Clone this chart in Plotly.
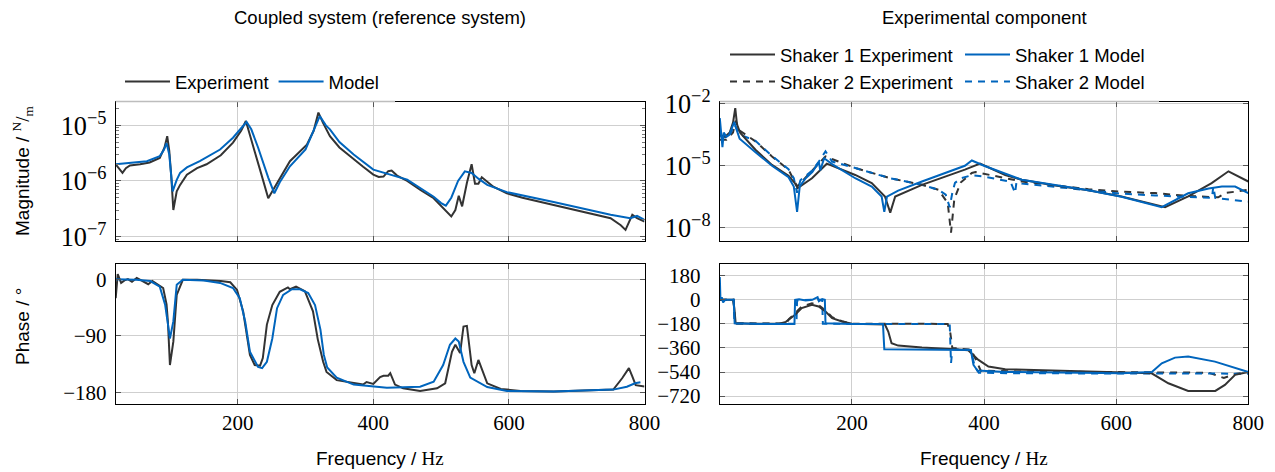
import plotly.graph_objects as go

W, H = 1275, 472
BLACK = "#333333"
BLUE = "#0065BD"
GRID = "#cfcfcf"
SANS = "Liberation Sans"
SERIF = "Liberation Serif"

# ---------------- data: coupled system (left) ----------------
cs_mag_exp_f = [20, 24, 30, 35, 41, 56, 70, 85, 92, 96, 99, 102, 105, 110, 115, 125, 140, 154, 175, 193,
                205, 212, 218, 225, 235, 245, 277, 302, 312, 319, 326, 336, 350, 371, 385, 400, 408, 415,
                422, 427, 435, 450, 470, 489, 505, 515, 521, 526, 531, 538, 545, 550, 555, 560, 577, 597,
                620, 666, 700, 750, 765, 772, 782, 789, 800]
cs_mag_exp = [2.0e-6, 1.7e-6, 1.4e-6, 1.7e-6, 1.9e-6, 2.0e-6, 2.15e-6, 2.6e-6, 4.0e-6, 6.4e-6, 3.5e-6,
              1.2e-6, 3.0e-7, 6.5e-7, 8.5e-7, 1.3e-6, 1.7e-6, 2.0e-6, 2.9e-6, 4.9e-6,
              8.0e-6, 1.2e-5, 7.0e-6, 3.4e-6, 1.3e-6, 4.9e-7, 2.27e-6, 4.5e-6, 8.0e-6, 1.7e-5, 1.1e-5,
              6.4e-6, 4.0e-6, 2.43e-6, 1.8e-6, 1.3e-6, 1.18e-6, 1.2e-6,
              1.5e-6, 1.54e-6, 1.25e-6, 1.0e-6, 6.8e-7, 4.9e-7, 3.0e-7, 2.3e-7, 3.0e-7, 5.4e-7, 3.5e-7,
              9.2e-7, 2.0e-6, 8.9e-7, 8.9e-7, 1.17e-6, 7.9e-7, 6.0e-7,
              5.0e-7, 3.7e-7, 3.0e-7, 2.14e-7, 1.6e-7, 1.32e-7, 2.46e-7, 2.14e-7, 1.86e-7]

cs_mag_mod_f = [20, 40, 66, 85, 91, 95, 99, 104, 110, 115, 125, 144, 174, 193, 205, 213, 220, 230, 245,
                254, 262, 277, 300, 312, 321, 330, 336, 350, 371, 400, 450, 489, 500, 507, 515, 525, 535,
                545, 555, 568, 597, 666, 750, 779, 789, 794, 800]
cs_mag_mod = [2.0e-6, 2.1e-6, 2.27e-6, 2.8e-6, 3.6e-6, 4.8e-6, 3.0e-6, 6.5e-7, 1.05e-6, 1.4e-6, 1.75e-6,
              2.27e-6, 3.68e-6, 6.0e-6, 9.0e-6, 1.15e-5, 8.5e-6, 4.0e-6, 1.15e-6,
              6.0e-7, 9.5e-7, 1.84e-6, 3.7e-6, 8.0e-6, 1.47e-5, 1.0e-5, 8.5e-6, 5.0e-6, 3.0e-6, 1.6e-6,
              1.06e-6, 5.2e-7, 4.0e-7, 3.6e-7, 5.0e-7, 1.0e-6, 1.49e-6,
              1.39e-6, 1.1e-6, 8.5e-7, 6.3e-7, 4.2e-7, 2.46e-7, 2.14e-7, 2.35e-7, 2.2e-7, 2.0e-7]

cs_ph_exp_f = [20, 23, 28, 33, 38, 44, 51, 59, 68, 74, 82, 90, 95, 97, 100, 105, 110, 119, 140, 160, 175,
               189, 199, 208, 218, 225, 233, 237, 243, 251, 262, 274, 277, 286, 299, 311, 318, 326, 331,
               346, 371, 385, 390, 400, 410, 415, 422, 425, 432, 444, 469, 494, 506, 516, 521, 528, 533,
               538, 545, 549, 555, 568, 588, 617, 666, 754, 767, 777, 782, 787, 800]
cs_ph_exp = [-30, 8, -6, -2, 0, -4, 2, -3, -8, -3, -8, -14, -40, -67, -136, -99, -25, -1, -1, -2, -3,
             -5, -17, -51, -120, -136, -137, -125, -72, -41, -20, -13, -16, -12, -19, -51, -95, -131, -147,
             -160, -165, -167, -163, -166, -155, -153, -153, -149, -167, -173, -177, -173, -165, -115, -104,
             -117, -75, -74, -136, -149, -128, -165, -174, -177, -178, -175, -157, -141, -154, -168, -170]

cs_ph_mod_f = [20, 50, 71, 85, 93, 100, 105, 110, 119, 150, 174, 193, 203, 211, 218, 230, 236, 243, 251,
               258, 267, 280, 292, 304, 314, 318, 322, 327, 332, 346, 371, 420, 469, 489, 503, 513, 521,
               526, 533, 543, 568, 597, 666, 754, 774, 786, 794]
cs_ph_mod = [0, -1, -3, -12, -41, -94, -67, -9, -1, -2, -6, -14, -30, -67, -115, -139, -141, -131, -94,
             -46, -25, -16, -16, -22, -41, -60, -80, -120, -140, -156, -167, -172, -170.5, -162.5, -136,
             -104, -94, -99, -131, -156, -171, -177, -178, -175, -170.5, -165, -163.5]

# ---------------- data: experimental component (right) ----------------
ec_mag_s1e_f = [1, 8, 15, 20, 23.4, 26, 31, 54, 79, 104, 114, 118, 139.5, 162, 205, 230, 250, 258, 265.5,
                306, 371, 394, 432, 457, 507.5, 558, 608, 638.6, 674, 709, 744.5, 770, 800]
ec_mag_s1e = [3.0e-4, 2.5e-4, 4.0e-4, 1.2e-3, 6.0e-3, 1.0e-3, 3.8e-4, 5.9e-5, 1.1e-5, 3.3e-6, 1.4e-6,
              8.3e-7, 2.5e-6, 1.26e-5, 3.6e-6, 1.45e-6, 3.3e-7, 5.5e-8, 3.3e-7,
              1.2e-6, 6.5e-6, 1.26e-5, 3.6e-6, 2.1e-6, 1.12e-6, 6.5e-7, 3.3e-7, 1.86e-7, 1.0e-7, 3.3e-7,
              1.45e-6, 5.4e-6, 1.74e-6]

ec_mag_s1m_f = [0, 2, 4, 6, 10, 14, 18, 22, 25, 30, 54, 79, 104, 112, 117, 121, 130, 140, 150, 152, 158,
                170, 205, 230, 245, 249, 253, 270, 306, 371, 381.5, 400, 457, 558, 608, 669, 709, 740,
                760, 780, 800]
ec_mag_s1m = [2.0e-3, 3.0e-4, 8.0e-5, 4.0e-4, 2.5e-4, 3.0e-4, 6.0e-4, 1.3e-3, 6.0e-4, 2.0e-4, 4.5e-5,
              1.0e-5, 2.8e-6, 1.0e-6, 6.0e-8, 1.0e-6, 2.5e-6, 5.0e-6, 1.5e-5, 6.0e-6, 2.3e-5,
              1.2e-5, 2.5e-6, 1.0e-6, 3.3e-7, 6.0e-8, 3.2e-7, 6.3e-7, 1.74e-6, 1.0e-5, 1.8e-5, 1.0e-5,
              2.1e-6, 6.5e-7, 3.2e-7, 1.0e-7, 4.7e-7, 8.0e-7, 1.0e-6, 1.0e-6, 4.8e-7]

ec_mag_s2e_f = [0, 10, 20, 24, 30, 54, 79, 104, 117, 139.5, 160, 205, 258, 306, 331, 345, 350, 355, 365,
                381.5, 387, 457, 558, 608, 659, 709, 754.5, 765, 800]
ec_mag_s2e = [1.8e-4, 1.8e-4, 4.0e-4, 1.5e-3, 5.0e-4, 1.5e-4, 2.8e-5, 6.5e-6, 1.0e-6, 5.4e-6, 2.8e-5,
              7.8e-6, 2.5e-6, 1.2e-6, 6.9e-7, 1.6e-7, 6.0e-9, 2.5e-7, 1.6e-6,
              4.5e-6, 5.0e-6, 1.74e-6, 7.4e-7, 5.6e-7, 4.8e-7, 3.5e-7, 3.0e-7, 4.8e-7, 6.9e-7]

ec_mag_s2m_f = [0, 3, 6, 10, 16, 22, 26, 32, 54, 79, 104, 112, 117, 122, 140, 150, 160, 170, 205, 258,
                306, 331, 342, 348, 352, 356, 365, 381.5, 400, 440, 447, 449, 457, 558, 608, 659, 709, 745,
                747, 750, 800]
ec_mag_s2m = [5.0e-4, 1.6e-4, 3.0e-4, 2.0e-4, 3.5e-4, 1.0e-3, 6.0e-4, 3.0e-4, 1.6e-4, 3.0e-5, 6.8e-6,
              2.5e-6, 5.0e-7, 2.0e-6, 6.0e-6, 1.6e-5, 5.0e-5, 1.6e-5, 7.8e-6, 2.5e-6,
              1.2e-6, 6.9e-7, 4.0e-7, 1.0e-7, 5.0e-7, 1.5e-6, 2.5e-6, 3.5e-6, 3.0e-6, 1.7e-6, 4.8e-7,
              1.6e-6, 1.4e-6, 6.9e-7, 4.5e-7, 3.7e-7, 3.2e-7, 2.8e-7, 1.0e-6, 2.8e-7, 1.86e-7]

ec_ph_s1e_f = [0, 20, 22, 24, 50, 90, 100, 104.5, 114, 124, 139.5, 149.6, 160, 170, 185, 200, 240, 250,
               255, 260, 270, 306, 356, 376, 391.5, 406.6, 432, 507.5, 653.7, 679, 709, 750, 764.6, 780,
               800]
ec_ph_s1e = [0, 0, -60, -175, -178, -178, -165, -150, -112, -62, -37, -50, -87, -137, -162, -178, -180,
             -185, -237, -324, -342, -357, -369, -377, -449, -499, -519, -531, -549, -624, -681, -681,
             -636, -561, -539]

ec_ph_s1m_f = [0, 1, 3, 5, 8, 21, 22.5, 60, 113, 114, 120, 130, 140, 148, 150, 155, 159, 160, 200, 247,
               249, 300, 380, 384, 390, 432, 608, 654, 669, 689, 709, 749.5, 800]
ec_ph_s1m = [170, 0, 20, -20, 0, 0, -175, -180, -180, 0, 5, -5, 0, 20, -10, 5, 0, -175, -180, -180,
             -370, -372, -375, -487, -529, -539, -549, -539, -474, -432, -424, -462, -539]

ec_ph_s2e_f = [0, 21, 23, 100, 104.5, 114, 124, 139.5, 149.6, 160, 170, 185, 200, 345, 349, 352, 380,
               388, 395, 450, 600, 740, 763, 780, 800]
ec_ph_s2e = [0, 0, -175, -178, -145, -100, -50, -25, -40, -80, -130, -160, -178, -180, -250, -360,
             -372, -450, -530, -535, -539, -545, -584, -555, -539]

ec_ph_s2m_f = [0, 21, 22.5, 116, 117, 130, 145, 155, 156, 200, 348, 350, 352, 380, 386, 392, 450, 800]
ec_ph_s2m = [0, 0, -178, -178, -5, 0, 3, 0, -178, -180, -180, -474, -370, -375, -500, -545, -549, -552]

x_ticks = [200, 400, 600, 800]
ph_left_ticks = [0, -90, -180]
ph_right_ticks = [180, 0, -180, -360, -540, -720]


def px(x):
    return x / W


def py(y):
    return 1 - y / H


fig = go.Figure()

DASH = "7px,6px"
LW = 2


def add(xs, ys, color, dash, name, xa, ya, legend, show):
    fig.add_trace(go.Scatter(
        x=xs, y=ys, mode="lines", name=name,
        line=dict(color=color, width=LW, dash=dash),
        xaxis=xa, yaxis=ya, legend=legend, showlegend=show, hoverinfo="skip"))


# left
add(cs_mag_exp_f, cs_mag_exp, BLACK, "solid", "Experiment", "x", "y", "legend", True)
add(cs_mag_mod_f, cs_mag_mod, BLUE, "solid", "Model", "x", "y", "legend", True)
add(cs_ph_exp_f, cs_ph_exp, BLACK, "solid", "Experiment", "x2", "y2", "legend", False)
add(cs_ph_mod_f, cs_ph_mod, BLUE, "solid", "Model", "x2", "y2", "legend", False)
# right
add(ec_mag_s2e_f, ec_mag_s2e, BLACK, DASH, "Shaker 2 Experiment", "x3", "y3", "legend3", True)
add(ec_mag_s2m_f, ec_mag_s2m, BLUE, DASH, "Shaker 2 Model", "x3", "y3", "legend3", True)
add(ec_mag_s1e_f, ec_mag_s1e, BLACK, "solid", "Shaker 1 Experiment", "x3", "y3", "legend2", True)
add(ec_mag_s1m_f, ec_mag_s1m, BLUE, "solid", "Shaker 1 Model", "x3", "y3", "legend2", True)
add(ec_ph_s2e_f, ec_ph_s2e, BLACK, DASH, "Shaker 2 Experiment", "x4", "y4", "legend3", False)
add(ec_ph_s2m_f, ec_ph_s2m, BLUE, DASH, "Shaker 2 Model", "x4", "y4", "legend3", False)
add(ec_ph_s1e_f, ec_ph_s1e, BLACK, "solid", "Shaker 1 Experiment", "x4", "y4", "legend2", False)
add(ec_ph_s1m_f, ec_ph_s1m, BLUE, "solid", "Shaker 1 Model", "x4", "y4", "legend2", False)

LX = [px(115.7), px(644.5)]
RX = [px(719.8), px(1248.3)]
MY = [py(241), py(101.5)]
PY = [py(403.5), py(264)]

tickfont = dict(family=SERIF, size=21, color="black")


def xax(domain, anchor, rng, labels):
    return dict(domain=domain, anchor=anchor, range=rng, tickmode="array", tickvals=x_ticks,
                showticklabels=labels, ticks="inside", ticklen=5, tickcolor="#555", mirror="allticks",
                showline=True, linecolor="black", linewidth=1, showgrid=True, gridcolor=GRID,
                gridwidth=1.2, zeroline=False, tickfont=tickfont, automargin=False)


def yax_common(domain, anchor):
    return dict(domain=domain, anchor=anchor, ticks="inside", ticklen=5, tickcolor="#555",
                mirror="allticks", showline=True, linecolor="black", linewidth=1, showgrid=True,
                gridcolor=GRID, gridwidth=1.2, zeroline=False, tickfont=tickfont, automargin=False)


leg_font = dict(family=SANS, size=18.5, color="black")

fig.update_layout(
    width=W, height=H, autosize=False,
    margin=dict(l=0, r=0, t=0, b=0, pad=0, autoexpand=False),
    paper_bgcolor="white", plot_bgcolor="white",
    xaxis=xax(LX, "y", [20, 800], False),
    xaxis2=xax(LX, "y2", [20, 800], True),
    xaxis3=xax(RX, "y3", [0, 800], False),
    xaxis4=xax(RX, "y4", [0, 800], True),
    yaxis=dict(**yax_common(MY, "x"), type="log", range=[-7.08, -4.57], dtick=1,
               exponentformat="power", ticklabelstandoff=4,
               minor=dict(dtick="D1", ticks="inside", ticklen=3, tickcolor="#777", showgrid=False)),
    yaxis2=dict(**yax_common(PY, "x2"), range=[-197, 24], tickmode="array", tickvals=ph_left_ticks,
                ticklabelstandoff=4),
    yaxis3=dict(**yax_common(MY, "x3"), type="log", range=[-8.63, -1.9], dtick=3, tick0=-2,
                exponentformat="power", ticklabelstandoff=4),
    yaxis4=dict(**yax_common(PY, "x4"), range=[-775, 268], tickmode="array", tickvals=ph_right_ticks,
                ticklabelstandoff=14),
    legend=dict(orientation="h", x=px(120), y=py(82), xanchor="left", yanchor="middle",
                font=leg_font, bgcolor="rgba(0,0,0,0)", itemwidth=45, traceorder="normal"),
    legend2=dict(orientation="h", x=px(725), y=py(55), xanchor="left", yanchor="middle",
                 font=leg_font, bgcolor="rgba(0,0,0,0)", itemwidth=45, entrywidth=175,
                 traceorder="normal"),
    legend3=dict(orientation="h", x=px(725), y=py(82), xanchor="left", yanchor="middle",
                 font=leg_font, bgcolor="rgba(0,0,0,0)", itemwidth=45, entrywidth=175,
                 traceorder="normal"),
)

# top frame segments hidden behind the legend boxes in the reference
fig.add_shape(type="line", xref="paper", yref="paper", x0=px(115.7), x1=px(395), y0=MY[1], y1=MY[1],
              line=dict(color="#bdbdbd", width=1.6), layer="above")
fig.add_shape(type="line", xref="paper", yref="paper", x0=px(719.8), x1=px(1159), y0=MY[1], y1=MY[1],
              line=dict(color="#bdbdbd", width=1.6), layer="above")

ann_font = dict(family=SANS, size=19, color="black")
title_font = dict(family=SANS, size=18.5, color="black")


def ann(text, x, y, font, angle=0):
    fig.add_annotation(text=text, x=px(x), y=py(y), xref="paper", yref="paper", showarrow=False,
                       xanchor="center", yanchor="middle", textangle=angle, font=font)


ann("Coupled system (reference system)", 380, 17, title_font)
ann("Experimental component", 984, 17, title_font)
for cx in (380, 984):
    ann("Frequency / <span style='font-family:Liberation Serif'>Hz</span>", cx, 458, ann_font)
ann("Magnitude / <span style='font-family:Liberation Serif'><sup>N</sup>/<sub>m</sub></span>", 22, 171,
    ann_font, -90)
ann("Phase / °", 22, 327, ann_font, -90)

fig.write_html("out.html")
